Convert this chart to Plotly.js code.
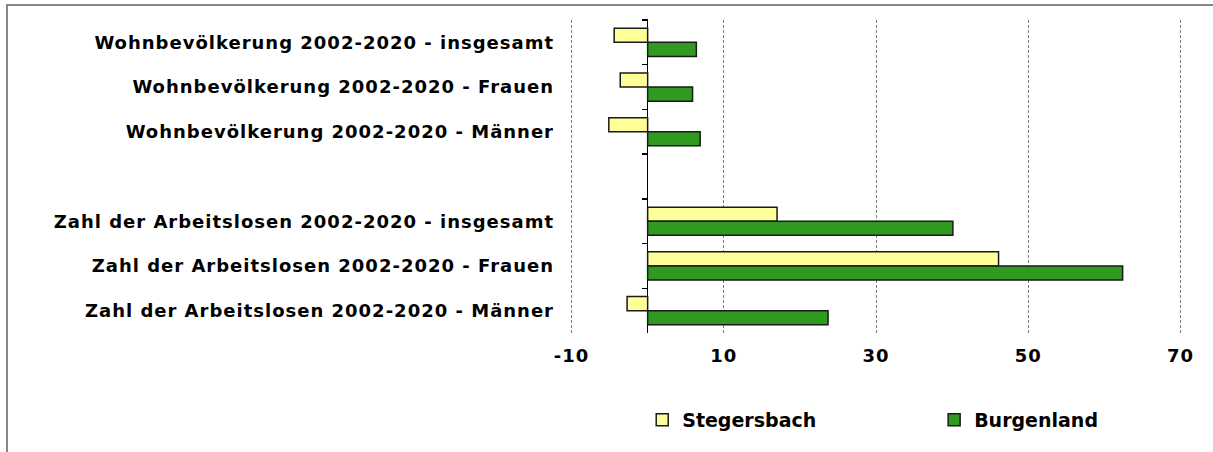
<!DOCTYPE html>
<html><head><meta charset="utf-8">
<script src="https://cdn.plot.ly/plotly-3.0.1.min.js"></script>
<style>
body{margin:0;background:#fff}
#chart{width:1213px;height:452px}
#chart .xtick text, #chart .ytick text{letter-spacing:1px}
#frame{position:absolute;left:6px;top:4px;width:1213px;height:452px;border-left:2px solid #878787;border-top:2px solid #878787;pointer-events:none;box-sizing:border-box}
</style></head><body>
<div id="chart"></div><div id="frame"></div>
<script>
const categories = [
  "Wohnbevölkerung 2002-2020 - insgesamt",
  "Wohnbevölkerung 2002-2020 - Frauen",
  "Wohnbevölkerung 2002-2020 - Männer",
  " ",
  "Zahl der Arbeitslosen 2002-2020 - insgesamt",
  "Zahl der Arbeitslosen 2002-2020 - Frauen",
  "Zahl der Arbeitslosen 2002-2020 - Männer"
];
const stegersbach = [-4.4, -3.6, -5.1, null, 17.0, 46.1, -2.7];
const burgenland = [6.4, 5.9, 6.9, null, 40.1, 62.4, 23.7];
const xTickValues = [-10, 10, 30, 50, 70];
const xTickLabels = ["-10", "10", "30", "50", "70"];

const font = {family: "DejaVu Sans", size: 18, color: "#000", weight: "bold"};
const legendFont = {family: "DejaVu Sans", size: 19, color: "#000", weight: "bold"};
const outline = {color: "#1a1a1a", width: 1.5};

const traces = [
  {type: "bar", orientation: "h", name: "Stegersbach", y: categories, x: stegersbach,
   marker: {color: "#FFFF99", line: outline}, xaxis: "x", yaxis: "y", legend: "legend"},
  {type: "bar", orientation: "h", name: "Burgenland", y: categories, x: burgenland,
   marker: {color: "#2E9A1E", line: outline}, xaxis: "x", yaxis: "y", legend: "legend2"},
  {type: "scatter", mode: "markers", y: categories, x: categories.map(() => 0),
   marker: {opacity: 0}, showlegend: false, hoverinfo: "skip", xaxis: "x", yaxis: "y2"}
];

const legendBase = {orientation: "h", xanchor: "left", y: -0.278, yanchor: "middle",
                    font: legendFont, itemclick: false, bgcolor: "rgba(0,0,0,0)"};

const layout = {
  width: 1213, height: 452,
  margin: {l: 570, r: 31, t: 20, b: 119},
  paper_bgcolor: "#fff", plot_bgcolor: "#fff",
  barmode: "group", bargap: 0.37, bargroupgap: 0,
  font: font,
  showlegend: true,
  legend: Object.assign({x: 0.118}, legendBase),
  legend2: Object.assign({x: 0.595}, legendBase),
  xaxis: {range: [-10.2, 70.2], tickvals: xTickValues, ticktext: xTickLabels,
          showgrid: true, gridcolor: "#7a7a7a", gridwidth: 1, griddash: "3px,2px",
          zeroline: true, zerolinecolor: "#000", zerolinewidth: 1.5,
          showline: false, ticks: "", ticklabelstandoff: 10, tickfont: font, fixedrange: true},
  yaxis: {type: "category", categoryorder: "array", categoryarray: categories,
          range: [6.5, -0.5], showgrid: false, zeroline: false, showline: false,
          ticks: "", ticklabelstandoff: 15, tickfont: font, fixedrange: true},
  yaxis2: {type: "category", categoryorder: "array", categoryarray: categories,
           overlaying: "y", anchor: "free", position: 10.2 / 80.4, side: "left",
           range: [6.5, -0.5], showgrid: false, zeroline: false, showline: false,
           showticklabels: false, ticks: "outside", tickson: "boundaries",
           ticklen: 6, tickwidth: 1.5, tickcolor: "#000", fixedrange: true}
};

Plotly.newPlot("chart", traces, layout, {displayModeBar: false, staticPlot: true});
</script>
</body></html>
